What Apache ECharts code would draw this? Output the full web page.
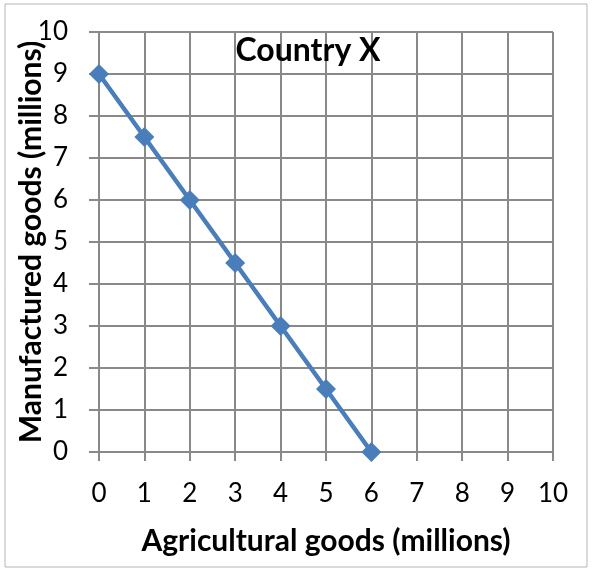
<!DOCTYPE html>
<html>
<head>
<meta charset="utf-8">
<script src="https://cdn.jsdelivr.net/npm/echarts@6/dist/echarts.min.js"></script>
<style>
  html, body { margin: 0; padding: 0; background: #fff; }
  #chart { width: 593px; height: 572px; }
</style>
</head>
<body>
<div id="chart"></div>
<script>
    var agricultural = [0, 1, 2, 3, 4, 5, 6];
    var manufactured = [9, 7.5, 6, 4.5, 3, 1.5, 0];

    var chart = echarts.init(document.getElementById('chart'));
    var font = 'Lato, "Open Sans", sans-serif';
    var gridColor = '#898989';

    var points = agricultural.map(function (x, i) { return [x, manufactured[i]]; });

    var option = {
        backgroundColor: '#fff',
        animation: false,
        title: {
            text: 'Country X',
            left: 303,
            top: 30,
            textAlign: 'center',
            textStyle: {
                color: '#000',
                fontSize: 32,
                fontWeight: 'bold',
                fontFamily: font
            }
        },
        graphic: [{
            type: 'rect',
            shape: {x: 5, y: 4, width: 582, height: 563},
            style: {fill: 'none', stroke: '#b5b5b5', lineWidth: 1},
            silent: true
        }],
        grid: {left: 99, right: 40, top: 32, bottom: 120, outerBoundsMode: 'none'},
        xAxis: {
            type: 'value',
            min: 0,
            max: 10,
            interval: 1,
            name: 'Agricultural goods (millions)',
            nameLocation: 'middle',
            nameGap: 74,
            nameMoveOverlap: false,
            nameTextStyle: {color: '#000', fontSize: 30, fontWeight: 'bold', fontFamily: font},
            axisLine: {show: false},
            axisTick: {show: true, length: 9, lineStyle: {color: gridColor, width: 2}},
            axisLabel: {color: '#000', fontSize: 26, fontFamily: font, margin: 29},
            splitLine: {show: true, lineStyle: {color: gridColor, width: 2}}
        },
        yAxis: {
            type: 'value',
            min: 0,
            max: 10,
            interval: 1,
            name: 'Manufactured goods (millions)',
            nameLocation: 'middle',
            nameGap: 53,
            nameMoveOverlap: false,
            nameTextStyle: {color: '#000', fontSize: 30, fontWeight: 'bold', fontFamily: font},
            axisLine: {show: false},
            axisTick: {show: true, length: 10, lineStyle: {color: gridColor, width: 2}},
            axisLabel: {color: '#000', fontSize: 26, fontFamily: font, margin: 31},
            splitLine: {show: true, lineStyle: {color: gridColor, width: 2}}
        },
        series: [{
            type: 'line',
            data: points,
            symbol: 'diamond',
            symbolSize: 20,
            lineStyle: {color: '#4a7ebb', width: 4.5},
            itemStyle: {color: '#4a7ebb'}
        }]
    };
    chart.setOption(option);

    window.onresize = function () {
        chart.resize();
    }
</script>
</body>
</html>
